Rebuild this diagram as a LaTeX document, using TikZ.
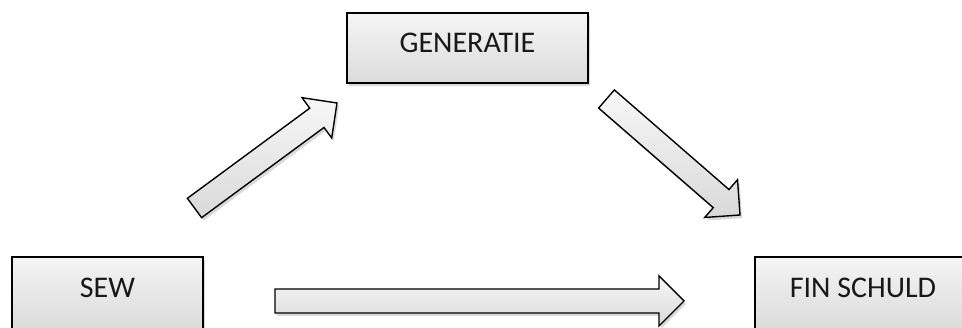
\documentclass[tikz,border=0pt]{standalone}
\usepackage{fontspec}
\setmainfont{Carlito}
\usetikzlibrary{calc,shadows}
\tikzset{
  boxstyle/.style={draw=black, line width=1.4pt, top color=gray!8, bottom color=gray!28,
    drop shadow={opacity=0.3, shadow xshift=2pt, shadow yshift=-3pt},
    font=\fontsize{30}{36}\selectfont, text=black!90, inner sep=0pt,
    text height=19pt, text depth=9pt, anchor=center},
  arrowstyle/.style={draw=black, line width=1.4pt, line join=miter, top color=gray!6, bottom color=gray!30,
    drop shadow={opacity=0.3, shadow xshift=2pt, shadow yshift=-3pt}}
}
\newcommand\blockarrow[2]{%
  \path[arrowstyle]
    ($(#1)!12pt!90:(#2)$) --
    ($($(#2)!25pt!(#1)$)!12pt!-90:(#1)$) --
    ($($(#2)!25pt!(#1)$)!25pt!-90:(#1)$) --
    (#2) --
    ($($(#2)!25pt!(#1)$)!25pt!90:(#1)$) --
    ($($(#2)!25pt!(#1)$)!12pt!90:(#1)$) --
    ($(#1)!12pt!-90:(#2)$) -- cycle;}
\begin{document}
\begin{tikzpicture}[x=1pt,y=1pt]
\useasboundingbox (0,0) rectangle (962,328);
\node[boxstyle, minimum width=241pt, minimum height=70pt] (gen) at (467.5,280) {GENERATIE};
\node[boxstyle, minimum width=191pt, minimum height=72pt] (sew) at (107.5,35) {SEW};
\node[boxstyle, minimum width=216pt, minimum height=72pt] (fin) at (863,35) {FIN SCHULD};
\coordinate (a1) at (275,27);
\coordinate (b1) at (684,27);
\coordinate (a2) at (194.5,120);
\coordinate (b2) at (337,225);
\coordinate (a3) at (606.5,229);
\coordinate (b3) at (740,113);
\blockarrow{a2}{b2}
\blockarrow{a3}{b3}
\blockarrow{a1}{b1}
\end{tikzpicture}
\end{document}
